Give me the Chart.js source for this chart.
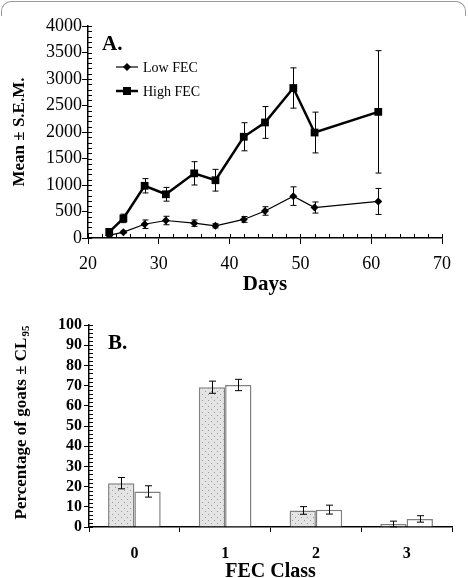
<!DOCTYPE html>
<html>
<head>
<meta charset="utf-8">
<script src="https://cdn.jsdelivr.net/npm/chart.js@4.4.0/dist/chart.umd.min.js"></script>
<style>
  html, body { margin: 0; padding: 0; background: #fff; overflow: hidden; }
  #wrap { position: relative; width: 468px; height: 578px; }
  #frame { position: absolute; left: 1px; top: 1px; width: 463px; height: 14px;
           border: 1.5px solid #9a9a9a; border-bottom: none; border-radius: 10px 10px 0 0; }
  #chartA { position: absolute; left: 0; top: 0; }
  #chartB { position: absolute; left: 0; top: 300px; }
</style>
</head>
<body>
<div id="wrap">
  <div id="frame"></div>
  <canvas id="chartA" width="468" height="300"></canvas>
  <canvas id="chartB" width="468" height="290"></canvas>
</div>
<script>
// Panel A: FEC over time
const days = [23, 25, 28, 31, 35, 38, 42, 45, 49, 52, 61];
const lowFec = [50, 110, 260, 330, 280, 230, 350, 510, 790, 575, 690];
const lowFecErr = [15, 20, 80, 80, 60, 40, 55, 80, 175, 105, 245];
const highFec = [115, 370, 985, 825, 1220, 1090, 1910, 2180, 2830, 1990, 2380];
const highFecErr = [30, 80, 135, 130, 220, 205, 265, 300, 380, 385, 1155];

// Panel B: percentage of goats per FEC class
const fecClasses = ['0', '1', '2', '3'];
const pctDotted = [21.7, 69.2, 8.2, 1.5];
const pctDottedErr = [2.8, 3.0, 1.9, 1.4];
const pctWhite = [17.6, 70.3, 8.6, 4.0];
const pctWhiteErr = [2.8, 2.8, 2.2, 1.6];

const SERIF = '"Liberation Serif", "Times New Roman", serif';
Chart.defaults.font.family = SERIF;
Chart.defaults.color = '#000';

// vertical error bars, using the chart's y scale
const errorBars = {
    id: 'errorBars',
    afterDatasetsDraw(chart) {
        const ctx = chart.ctx;
        const yScale = chart.scales.y;
        chart.data.datasets.forEach((ds, i) => {
            if (!ds.errors) return;
            const meta = chart.getDatasetMeta(i);
            ctx.save();
            ctx.strokeStyle = '#000';
            ctx.lineWidth = 1;
            meta.data.forEach((el, j) => {
                const raw = ds.data[j];
                const v = typeof raw === 'object' ? raw.y : raw;
                const e = ds.errors[j];
                const top = yScale.getPixelForValue(v + e);
                const bot = yScale.getPixelForValue(Math.max(0, v - e));
                const x = Math.round(el.x) + 0.5;
                const w = ds.capWidth || 3;
                ctx.beginPath();
                ctx.moveTo(x, top); ctx.lineTo(x, bot);
                ctx.moveTo(x - w, top); ctx.lineTo(x + w, top);
                ctx.moveTo(x - w, bot); ctx.lineTo(x + w, bot);
                ctx.stroke();
            });
            ctx.restore();
        });
    }
};

// small inner ticks between the labelled ones
const minorTicks = {
    id: 'minorTicks',
    afterDraw(chart, args, opts) {
        const ctx = chart.ctx;
        ctx.save();
        ctx.strokeStyle = '#000';
        ctx.lineWidth = 1;
        (opts.axes || []).forEach(a => {
            const s = chart.scales[a.id];
            for (let v = s.min; v <= s.max + 1e-9; v += a.step) {
                const p = Math.round(s.getPixelForValue(v)) + 0.5;
                ctx.beginPath();
                if (s.isHorizontal()) {
                    ctx.moveTo(p, s.top); ctx.lineTo(p, s.top - a.len);
                } else {
                    ctx.moveTo(s.right, p); ctx.lineTo(s.right + a.len, p);
                }
                ctx.stroke();
            }
        });
        ctx.restore();
    }
};

// panel A extras: "A." and the inside legend
const panelA = {
    id: 'panelA',
    afterDraw(chart) {
        const ctx = chart.ctx;
        ctx.save();
        ctx.fillStyle = '#000';
        ctx.font = 'bold 21px ' + SERIF;
        ctx.textBaseline = 'alphabetic';
        ctx.fillText('A.', 102, 50);

        const rows = [67, 91];
        chart.data.datasets.forEach((ds, i) => {
            const y = rows[i];
            ctx.strokeStyle = '#000';
            ctx.lineWidth = ds.borderWidth;
            ctx.beginPath();
            ctx.moveTo(116, y); ctx.lineTo(138, y);
            ctx.stroke();
            ctx.beginPath();
            if (ds.pointStyle === 'rectRot') {
                ctx.moveTo(127, y - 4); ctx.lineTo(131, y); ctx.lineTo(127, y + 4); ctx.lineTo(123, y);
            } else {
                ctx.rect(123, y - 4, 8, 8);
            }
            ctx.closePath();
            ctx.fill();
            ctx.font = '14px ' + SERIF;
            ctx.textBaseline = 'middle';
            ctx.fillText(ds.label, 143, y + 1);
        });
        ctx.restore();
    }
};

// panel B extras: "B." and the y title with subscript
const panelB = {
    id: 'panelB',
    afterDraw(chart) {
        const ctx = chart.ctx;
        ctx.save();
        ctx.fillStyle = '#000';
        ctx.font = 'bold 21px ' + SERIF;
        ctx.textBaseline = 'alphabetic';
        ctx.fillText('B.', 108, 49);

        const main = 'Percentage of goats \u00b1 CL';
        const sub = '95';
        ctx.translate(26, 123);
        ctx.rotate(-Math.PI / 2);
        ctx.font = 'bold 17px ' + SERIF;
        const w1 = ctx.measureText(main).width;
        ctx.font = 'bold 11px ' + SERIF;
        const w2 = ctx.measureText(sub).width;
        const x0 = -(w1 + w2) / 2;
        ctx.font = 'bold 17px ' + SERIF;
        ctx.fillText(main, x0, 0);
        ctx.font = 'bold 11px ' + SERIF;
        ctx.fillText(sub, x0 + w1 + 1, 3);
        ctx.restore();
    }
};

new Chart(document.getElementById('chartA'), {
    type: 'line',
    data: {
        datasets: [
            {
                label: 'Low FEC',
                data: days.map((d, i) => ({ x: d, y: lowFec[i] })),
                errors: lowFecErr,
                borderColor: '#000',
                backgroundColor: '#000',
                borderWidth: 1.2,
                pointStyle: 'rectRot',
                pointRadius: 4,
                pointBorderWidth: 0,
                tension: 0
            },
            {
                label: 'High FEC',
                data: days.map((d, i) => ({ x: d, y: highFec[i] })),
                errors: highFecErr,
                borderColor: '#000',
                backgroundColor: '#000',
                borderWidth: 2.5,
                pointStyle: 'rect',
                pointRadius: 5.5,
                pointBorderWidth: 0,
                tension: 0
            }
        ]
    },
    options: {
        responsive: false,
        animation: false,
        layout: { padding: { top: 26, right: 26, left: 0, bottom: 0 } },
        plugins: {
            legend: { display: false },
            tooltip: { enabled: false },
            minorTicks: { axes: [{ id: 'y', step: 100, len: 4 }, { id: 'x', step: 2, len: 4 }] }
        },
        scales: {
            x: {
                type: 'linear',
                min: 20, max: 70,
                afterFit(scale) { scale.height = 62; },
                ticks: { stepSize: 10, font: { family: SERIF, size: 18 }, padding: 9, maxRotation: 0,
                         callback: v => String(v) },
                grid: { drawOnChartArea: false, tickLength: 6, tickColor: '#000' },
                border: { color: '#000', width: 1.5 },
                title: { display: true, text: 'Days', font: { family: SERIF, size: 21, weight: 'bold' }, padding: { bottom: 3 } }
            },
            y: {
                min: 0, max: 4000,
                afterFit(scale) { scale.width = 88; },
                ticks: { stepSize: 500, font: { family: SERIF, size: 18 }, padding: 0,
                         callback: v => String(v) },
                grid: { drawOnChartArea: false, tickLength: 6, tickColor: '#000' },
                border: { color: '#000', width: 1.5 },
                title: { display: true, text: 'Mean \u00b1 S.E.M.', font: { family: SERIF, size: 17, weight: 'bold' }, padding: { top: 9 } }
            }
        }
    },
    plugins: [errorBars, minorTicks, panelA]
});

// dotted fill for the first bar series
const tile = document.createElement('canvas');
tile.width = 6; tile.height = 6;
const tctx = tile.getContext('2d');
tctx.fillStyle = '#e4e4e4';
tctx.fillRect(0, 0, 6, 6);
tctx.fillStyle = '#9a9a9a';
tctx.fillRect(1, 1, 1, 1);
tctx.fillRect(4, 4, 1, 1);
const dotted = tctx.createPattern(tile, 'repeat');

new Chart(document.getElementById('chartB'), {
    type: 'bar',
    data: {
        labels: fecClasses,
        datasets: [
            {
                label: 'Series 1',
                data: pctDotted,
                errors: pctDottedErr,
                backgroundColor: dotted,
                borderColor: '#808080',
                borderWidth: 1.5,
                capWidth: 3.5
            },
            {
                label: 'Series 2',
                data: pctWhite,
                errors: pctWhiteErr,
                backgroundColor: '#fff',
                borderColor: '#808080',
                borderWidth: 1.5,
                capWidth: 3.5
            }
        ]
    },
    options: {
        responsive: false,
        animation: false,
        layout: { padding: { top: 25, right: 16, left: 0, bottom: 0 } },
        datasets: { bar: { categoryPercentage: 0.58, barPercentage: 1.0 } },
        plugins: {
            legend: { display: false },
            tooltip: { enabled: false },
            minorTicks: { axes: [{ id: 'y', step: 2, len: 4 }] }
        },
        scales: {
            x: {
                afterFit(scale) { scale.height = 63; },
                ticks: { font: { family: SERIF, size: 16, weight: 'bold' }, padding: 12 },
                grid: { offset: true, drawOnChartArea: false, tickLength: 5, tickColor: '#000' },
                border: { color: '#000', width: 1.5 },
                title: { display: true, text: 'FEC Class', font: { family: SERIF, size: 20, weight: 'bold' }, padding: { bottom: 6 } }
            },
            y: {
                min: 0, max: 100,
                afterFit(scale) { scale.width = 89; },
                ticks: { stepSize: 10, autoSkip: false, font: { family: SERIF, size: 16, weight: 'bold' }, padding: 2 },
                grid: { drawOnChartArea: false, tickLength: 5, tickColor: '#000' },
                border: { color: '#000', width: 1.5 }
            }
        }
    },
    plugins: [errorBars, minorTicks, panelB]
});
</script>
</body>
</html>
